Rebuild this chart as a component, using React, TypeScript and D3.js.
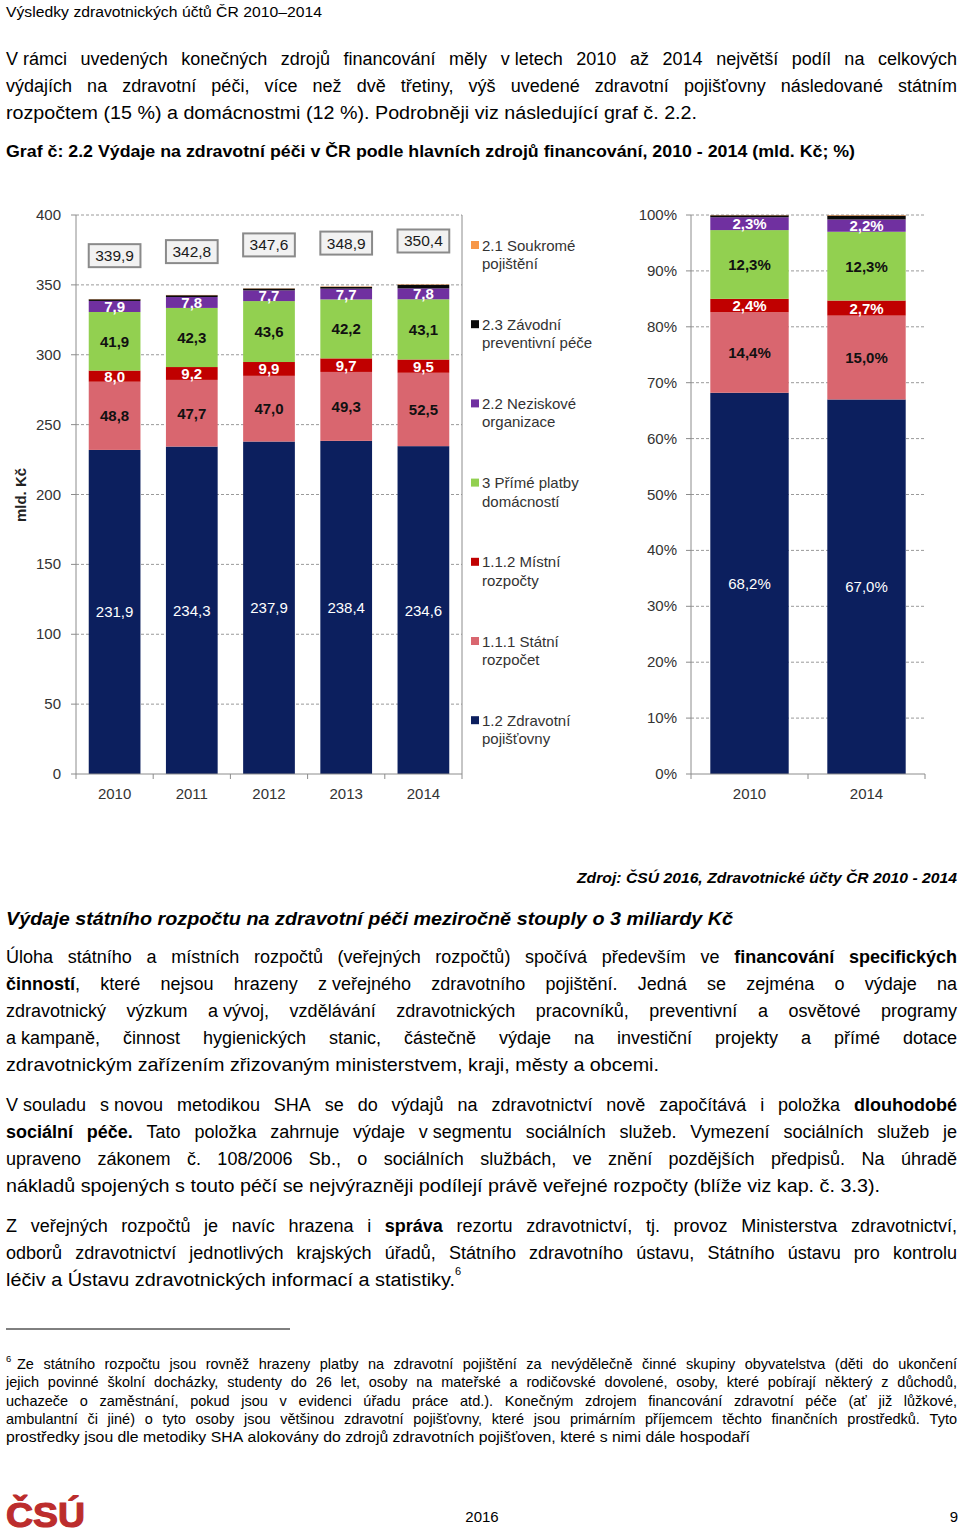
import React from 'react';
import * as d3 from 'd3';

// ---------- DATA ----------
const years = ['2010', '2011', '2012', '2013', '2014'];
const seriesKeys = ['zp', 'sr', 'mr', 'pp', 'no', 'zpp', 'sp'];
const seriesLegend = [
  ['1.2 Zdravotní', 'pojišťovny'],
  ['1.1.1 Státní', 'rozpočet'],
  ['1.1.2 Místní', 'rozpočty'],
  ['3 Přímé platby', 'domácností'],
  ['2.2 Neziskové', 'organizace'],
  ['2.3 Závodní', 'preventivní péče'],
  ['2.1 Soukromé', 'pojištění'],
];
const seriesColors = ['#0c1f5e', '#d9666f', '#c00000', '#92d050', '#7030a0', '#0a0a0a', '#f79646'];

const zdravotniPojistovny = [231.9, 234.3, 237.9, 238.4, 234.6];
const statniRozpocet = [48.8, 47.7, 47.0, 49.3, 52.5];
const mistniRozpocty = [8.0, 9.2, 9.9, 9.7, 9.5];
const primePlatby = [41.9, 42.3, 43.6, 42.2, 43.1];
const neziskove = [7.9, 7.8, 7.7, 7.7, 7.8];
const zavodniPece = [1.2, 1.3, 1.3, 1.3, 2.6];
const soukromePojisteni = [0.2, 0.2, 0.2, 0.3, 0.3];
const totals = [339.9, 342.8, 347.6, 348.9, 350.4];

const shareYears = ['2010', '2014'];
const shareZP = [68.2, 67.0];
const shareSR = [14.4, 15.0];
const shareMR = [2.4, 2.7];
const sharePP = [12.3, 12.3];
const shareNO = [2.3, 2.2];
const shareZPP = [0.35, 0.7];
const shareSP = [0.05, 0.1];

const leftTicks = [0, 50, 100, 150, 200, 250, 300, 350, 400];
const rightTicks = [0, 10, 20, 30, 40, 50, 60, 70, 80, 90, 100];

// ---------- TEXT ----------  ('~' = non-stretching space, '**' toggles bold)
const header = 'Výsledky zdravotnických účtů ČR 2010–2014';
const para1 = [
  'V~rámci uvedených konečných zdrojů financování měly v~letech 2010 až 2014 největší podíl na celkových',
  'výdajích na zdravotní péči, více než dvě třetiny, výš uvedené zdravotní pojišťovny následované státním',
  'rozpočtem (15 %) a domácnostmi (12 %). Podrobněji viz následující graf č. 2.2.',
];
const chartTitle = 'Graf č: 2.2 Výdaje na zdravotní péči v ČR podle hlavních zdrojů financování, 2010 - 2014 (mld. Kč; %)';
const sourceText = 'Zdroj: ČSÚ 2016, Zdravotnické účty ČR 2010 - 2014';
const heading2 = 'Výdaje státního rozpočtu na zdravotní péči meziročně stouply o 3 miliardy Kč';
const para2 = [
  'Úloha státního a místních rozpočtů (veřejných rozpočtů) spočívá především ve **financování specifických**',
  '**činností**, které nejsou hrazeny z~veřejného zdravotního pojištění. Jedná se zejména o výdaje na',
  'zdravotnický výzkum a~vývoj, vzdělávání zdravotnických pracovníků, preventivní a osvětové programy',
  'a~kampaně, činnost hygienických stanic, částečně výdaje na investiční projekty a přímé dotace',
  'zdravotnickým zařízením zřizovaným ministerstvem, kraji, městy a obcemi.',
];
const para3 = [
  'V~souladu s~novou metodikou SHA se do výdajů na zdravotnictví nově započítává i položka **dlouhodobé**',
  '**sociální péče.** Tato položka zahrnuje výdaje v~segmentu sociálních služeb. Vymezení sociálních služeb je',
  'upraveno zákonem č. 108/2006 Sb., o sociálních službách, ve znění pozdějších předpisů. Na úhradě',
  'nákladů spojených s~touto péčí se nejvýrazněji podílejí právě veřejné rozpočty (blíže viz kap. č. 3.3).',
];
const para4 = [
  'Z veřejných rozpočtů je navíc hrazena i **správa** rezortu zdravotnictví, tj. provoz Ministerstva zdravotnictví,',
  'odborů zdravotnictví jednotlivých krajských úřadů, Státního zdravotního ústavu, Státního ústavu pro kontrolu',
  'léčiv a Ústavu zdravotnických informací a statistiky.',
];
const footnote = [
  'Ze státního rozpočtu jsou rovněž hrazeny platby na zdravotní pojištění za nevýdělečně činné skupiny obyvatelstva (děti do ukončení',
  'jejich povinné školní docházky, studenty do 26 let, osoby na mateřské a rodičovské dovolené, osoby, které pobírají některý z důchodů,',
  'uchazeče o zaměstnání, pokud jsou v evidenci úřadu práce atd.). Konečným zdrojem financování zdravotní péče (ať již lůžkové,',
  'ambulantní či jiné) o tyto osoby jsou většinou zdravotní pojišťovny, které jsou primárním příjemcem těchto finančních prostředků. Tyto',
  'prostředky jsou dle metodiky SHA alokovány do zdrojů zdravotních pojišťoven, které s nimi dále hospodaří',
];

const FONT = "'Liberation Sans', Arial, sans-serif";

// ---------- TEXT HELPERS ----------
let _ctx: CanvasRenderingContext2D | null = null;
function measure(t: string, size: number, bold: boolean, italic: boolean) {
  if (!_ctx) _ctx = document.createElement('canvas').getContext('2d');
  _ctx!.font = `${italic ? 'italic ' : ''}${bold ? 'bold ' : ''}${size}px "Liberation Sans"`;
  return _ctx!.measureText(t).width;
}
type Run = { t: string; b: boolean };
function parseWords(line: string): Run[][] {
  const words: Run[][] = [];
  let bold = false;
  for (const w of line.split(' ')) {
    const parts = w.split('**');
    const runs: Run[] = [];
    parts.forEach((p, i) => {
      if (i > 0) bold = !bold;
      if (p) runs.push({ t: p.replace(/~/g, ' '), b: bold });
    });
    words.push(runs);
  }
  return words;
}

function TLine(props: {
  text: string; x: number; y: number; width?: number; justify?: boolean; size: number;
  sx?: number; italic?: boolean; bold?: boolean; anchor?: 'start' | 'end' | 'middle'; fill?: string; stroke?: number;
}) {
  const { text, x, y, width, justify, size, italic = false, bold = false, anchor = 'start', fill = '#000', stroke } = props;
  let sx = props.sx ?? 1;
  const words = parseWords(text);
  let ww = words.map((runs) => runs.reduce((s, r) => s + measure(r.t, size, r.b || bold, italic), 0) * sx);
  let space = measure(' ', size, bold, italic) * sx;
  let sum = ww.reduce((a, b) => a + b, 0);
  let gap = space;
  if (width && justify && words.length > 1) {
    gap = (width - sum) / (words.length - 1);
  } else if (width) {
    const nat = sum + space * (words.length - 1);
    const k = width / nat;
    sx *= k; ww = ww.map((w) => w * k); space *= k; gap = space; sum *= k;
  }
  const total = sum + gap * (words.length - 1);
  let px = anchor === 'end' ? x - total : anchor === 'middle' ? x - total / 2 : x;
  const out: JSX.Element[] = [];
  words.forEach((runs, i) => {
    out.push(
      <text key={i} transform={`translate(${px},${y}) scale(${sx},1)`} fontSize={size} fontStyle={italic ? 'italic' : 'normal'} fill={fill} fontFamily={FONT}
        stroke={stroke ? fill : undefined} strokeWidth={stroke} style={{ whiteSpace: 'pre' }}>
        {runs.map((r, j) => (
          <tspan key={j} fontWeight={r.b || bold ? 'bold' : 'normal'}>{r.t}</tspan>
        ))}
      </text>
    );
    px += ww[i] + gap;
  });
  return <g>{out}</g>;
}

function Para(props: { lines: string[]; x: number; y0: number; lh: number; width: number; lastWidth: number; size: number; sx?: number; firstX?: number; firstWidth?: number }) {
  const { lines, x, y0, lh, width, lastWidth, size, sx = 1, firstX, firstWidth } = props;
  return (
    <g>
      {lines.map((l, i) => {
        const last = i === lines.length - 1;
        const lx = i === 0 && firstX !== undefined ? firstX : x;
        const lw = last ? lastWidth : i === 0 && firstWidth !== undefined ? firstWidth : width;
        return <TLine key={i} text={l} x={lx} y={y0 + i * lh} width={lw} justify={!last} size={size} sx={sx} />;
      })}
    </g>
  );
}

const fmt = (v: number) => v.toFixed(1).replace('.', ',');
const labelStyle = [
  { fill: '#ffffff', bold: false },
  { fill: '#111111', bold: true },
  { fill: '#ffffff', bold: true },
  { fill: '#111111', bold: true },
  { fill: '#ffffff', bold: true },
];

export default function App() {
  // Left chart
  const rows = years.map((y, i) => ({
    year: y, zp: zdravotniPojistovny[i], sr: statniRozpocet[i], mr: mistniRozpocty[i], pp: primePlatby[i],
    no: neziskove[i], zpp: zavodniPece[i], sp: soukromePojisteni[i], total: totals[i],
  }));
  const stackL = d3.stack<any>().keys(seriesKeys)(rows);
  const yL = d3.scaleLinear().domain([0, 400]).range([774, 215]);
  const xL = d3.scaleBand<string>().domain(years).range([76, 462]).paddingInner(0.33).paddingOuter(0.165);

  const rrows = shareYears.map((y, i) => ({
    year: y, zp: shareZP[i], sr: shareSR[i], mr: shareMR[i], pp: sharePP[i], no: shareNO[i], zpp: shareZPP[i], sp: shareSP[i],
  }));
  const stackR = d3.stack<any>().keys(seriesKeys)(rrows);
  const yR = d3.scaleLinear().domain([0, 100]).range([774, 215]);
  const xR = d3.scaleBand<string>().domain(shareYears).range([691, 925]).paddingInner(0.33).paddingOuter(0.165);

  const gridColor = '#9a9a9a';
  const axisColor = '#8c8c8c';
  const tickText = '#333333';

  return (
    <svg width={960} height={1536} style={{ position: 'absolute', left: 0, top: 0, background: '#fff' }} fontFamily={FONT}>
      <rect x={0} y={0} width={960} height={1536} fill="#fff" />
      <TLine text={header} x={6} y={17} width={316} size={14.5} />
      <TLine text={para1[0]} x={6} y={65} width={951} justify size={18} />
      <TLine text={para1[1]} x={6} y={92} width={951} justify size={18} />
      <TLine text={para1[2]} x={6} y={119} width={691} size={18} />
      <TLine text={chartTitle} x={6} y={157} width={849} size={16} bold />

      {/* LEFT CHART */}
      <g>
        {leftTicks.map((t) => (
          <g key={t}>
            {t > 0 && <line x1={76} x2={462} y1={yL(t)} y2={yL(t)} stroke={gridColor} strokeDasharray="3,2" strokeWidth={1} />}
            <line x1={71} x2={76} y1={yL(t)} y2={yL(t)} stroke={axisColor} />
            <text x={61} y={yL(t) + 5} textAnchor="end" fontSize={15} fill={tickText}>{t}</text>
          </g>
        ))}
        {stackL.map((s, si) => (
          <g key={si}>
            {s.map((d, i) => (
              <rect key={i} x={xL(years[i])} width={xL.bandwidth()} y={yL(d[1])} height={yL(d[0]) - yL(d[1])} fill={seriesColors[si]} />
            ))}
          </g>
        ))}
        {stackL.slice(0, 5).map((s, si) => (
          <g key={'l' + si}>
            {s.map((d, i) => (
              <text key={i} x={xL(years[i])! + xL.bandwidth() / 2} y={(yL(d[0]) + yL(d[1])) / 2 + 5.5} textAnchor="middle" fontSize={15}
                fontWeight={labelStyle[si].bold ? 'bold' : 'normal'} fill={labelStyle[si].fill}>{fmt(d[1] - d[0])}</text>
            ))}
          </g>
        ))}
        {rows.map((r, i) => (
          <g key={'t' + i}>
            <rect x={xL(r.year)} width={xL.bandwidth()} y={yL(r.total + 31) - 11.5} height={23} fill="#f2f2f2" stroke="#8a8a8a" strokeWidth={2} />
            <text x={xL(r.year)! + xL.bandwidth() / 2} y={yL(r.total + 31) + 5.5} textAnchor="middle" fontSize={15.5} fill="#1a1a1a">{fmt(r.total)}</text>
          </g>
        ))}
        <line x1={76} x2={76} y1={215} y2={774} stroke={axisColor} />
        <line x1={462} x2={462} y1={215} y2={774} stroke={axisColor} />
        <line x1={76} x2={462} y1={774} y2={774} stroke={axisColor} />
        {years.map((y, i) => (
          <line key={'xt' + i} x1={xL(y)! - (xL.step() - xL.bandwidth()) / 2} x2={xL(y)! - (xL.step() - xL.bandwidth()) / 2} y1={774} y2={779} stroke={axisColor} />
        ))}
        <line x1={462} x2={462} y1={774} y2={779} stroke={axisColor} />
        {years.map((y) => (
          <text key={'xl' + y} x={xL(y)! + xL.bandwidth() / 2} y={799} textAnchor="middle" fontSize={15} fill={tickText}>{y}</text>
        ))}
        <text transform="translate(26,495) rotate(-90)" textAnchor="middle" fontSize={15} fontWeight="bold" fill="#222">mld. Kč</text>
      </g>

      {/* LEGEND */}
      <g>
        {seriesLegend.slice().reverse().map((lines, k) => {
          const si = seriesLegend.length - 1 - k;
          const y0 = 245 + k * 79.2;
          return (
            <g key={'lg' + k}>
              <rect x={471} y={y0 - 4} width={8} height={8} fill={seriesColors[si]} />
              <text x={482} y={y0 + 5.5} fontSize={15} fill="#333">{lines[0]}</text>
              <text x={482} y={y0 + 24} fontSize={15} fill="#333">{lines[1]}</text>
            </g>
          );
        })}
      </g>

      {/* RIGHT CHART */}
      <g>
        {rightTicks.map((t) => (
          <g key={t}>
            {t > 0 && <line x1={691} x2={925} y1={yR(t)} y2={yR(t)} stroke={gridColor} strokeDasharray="3,2" strokeWidth={1} />}
            <line x1={686} x2={691} y1={yR(t)} y2={yR(t)} stroke={axisColor} />
            <text x={677} y={yR(t) + 5} textAnchor="end" fontSize={15} fill={tickText}>{t + '%'}</text>
          </g>
        ))}
        {stackR.map((s, si) => (
          <g key={si}>
            {s.map((d, i) => (
              <rect key={i} x={xR(shareYears[i])} width={xR.bandwidth()} y={yR(d[1])} height={yR(d[0]) - yR(d[1])} fill={seriesColors[si]} />
            ))}
          </g>
        ))}
        {stackR.slice(0, 5).map((s, si) => (
          <g key={'rl' + si}>
            {s.map((d, i) => (
              <text key={i} x={xR(shareYears[i])! + xR.bandwidth() / 2} y={(yR(d[0]) + yR(d[1])) / 2 + 5.5} textAnchor="middle" fontSize={15}
                fontWeight={labelStyle[si].bold ? 'bold' : 'normal'} fill={labelStyle[si].fill}>{fmt(d[1] - d[0]) + '%'}</text>
            ))}
          </g>
        ))}
        <line x1={691} x2={691} y1={215} y2={774} stroke={axisColor} />
        <line x1={691} x2={925} y1={774} y2={774} stroke={axisColor} />
        {[691, 808, 925].map((x) => (
          <line key={'rt' + x} x1={x} x2={x} y1={774} y2={779} stroke={axisColor} />
        ))}
        {shareYears.map((y) => (
          <text key={'rx' + y} x={xR(y)! + xR.bandwidth() / 2} y={799} textAnchor="middle" fontSize={15} fill={tickText}>{y}</text>
        ))}
      </g>

      <TLine text={sourceText} x={957} y={883} width={380} size={15.5} bold italic anchor="end" />
      <TLine text={heading2} x={6} y={925} width={727} size={18.5} bold italic />
      <Para lines={para2} x={6} y0={963} lh={27} width={951} lastWidth={653} size={18} />
      <Para lines={para3} x={6} y0={1111} lh={27} width={951} lastWidth={874} size={18} />
      <Para lines={para4} x={6} y0={1232} lh={27} width={951} lastWidth={449} size={18} />
      <text x={455} y={1275} fontSize={11} fill="#000">6</text>

      <line x1={6} x2={290} y1={1329} y2={1329} stroke="#000" strokeWidth={1} />
      <text x={6} y={1362} fontSize={9.5} fill="#000">6</text>
      <Para lines={footnote} x={6} y0={1369} lh={18.3} width={951} lastWidth={744} size={14.5} firstX={17} firstWidth={940} />

      <TLine text="ČSÚ" x={6} y={1527} width={79} size={36} bold fill="#bc2d2d" stroke={1.2} />
      <TLine text="2016" x={482} y={1522} size={15} anchor="middle" />
      <TLine text="9" x={958} y={1522} size={15} anchor="end" />
    </svg>
  );
}
